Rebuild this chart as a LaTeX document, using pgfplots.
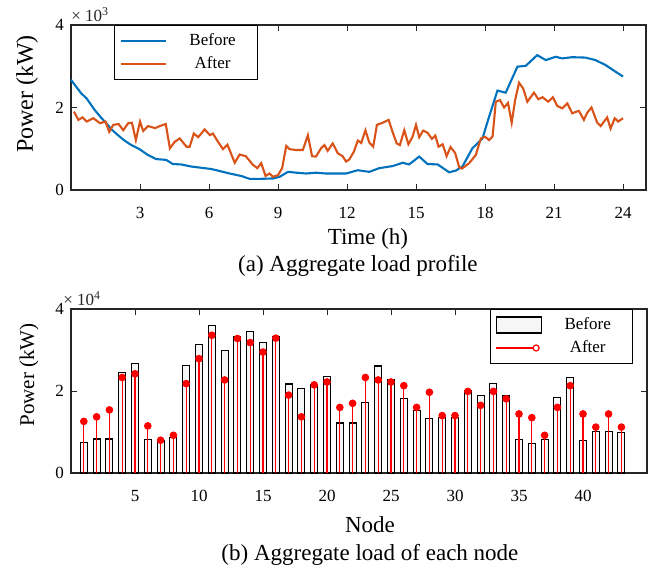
\documentclass[border=0pt]{standalone}
\usepackage{fontspec}
\setmainfont{Liberation Serif}
\usepackage{pgfplots}
\pgfplotsset{compat=1.18}

\definecolor{mblue}{rgb}{0,0.447,0.741}
\definecolor{morange}{rgb}{0.85,0.325,0.098}
\definecolor{axgray}{rgb}{0.15,0.15,0.15}

\pgfplotsset{
  mystyle/.style={
    scale only axis,
    anchor=north west,
    clip=false,
    axis line style={axgray, line width=0.6pt},
    tick style={axgray, line width=0.5pt},
    tick align=inside,
    major tick length=3pt,
    ticklabel style={font=\fontsize{8.5}{10}\selectfont, text=black},
    /pgf/number format/assume math mode=true,
    xticklabel style={yshift=-5pt},
    legend cell align=center,
    legend style={draw=black, line width=0.5pt, fill=white,
      font=\fontsize{8.5}{10}\selectfont, inner xsep=2.5pt, inner ysep=2pt,
      nodes={inner sep=2pt, text depth=0.15em},
      /tikz/every odd column/.append style={column sep=3pt}},
    every axis y label/.style={rotate=90, anchor=center},
    every axis x label/.style={anchor=center, font=\fontsize{11.5}{14}\selectfont},
  }
}

\begin{document}
\begin{tikzpicture}
\useasboundingbox (-35.5pt,12.5pt) rectangle (292.5pt,-272pt);

% ---------------- (a) ----------------
\begin{axis}[mystyle,
  at={(0pt,0pt)},
  width=287.5pt, height=82.5pt,
  xmin=0, xmax=25, ymin=0, ymax=4,
  xtick={3,6,...,24}, ytick={0,2,4},
  xlabel={Time (h)},
  xlabel style={at={(axis description cs:0.5165,-0.297)}},
  ylabel={Power (kW)},
  ylabel style={at={(axis description cs:-0.0765,0.582)}, font=\fontsize{12}{14}\selectfont},
  legend style={at={(axis description cs:0.0748,1)}, anchor=north west},
  legend image code/.code={\draw[#1] (0pt,0pt) -- (22.5pt,0pt);},
]
\addplot[mblue, line width=1.05pt] coordinates {
(0,2.67) (0.45,2.34) (0.68,2.22) (1.03,1.94) (1.3,1.76) (1.53,1.62) (1.78,1.46) (2.04,1.33) (2.3,1.21) (2.62,1.09) (2.98,0.99)
(3.34,0.85) (3.7,0.75) (4.14,0.73) (4.43,0.63) (4.79,0.62) (5.22,0.57) (5.65,0.54) (6.09,0.51)
(6.32,0.48) (6.9,0.40) (7.4,0.34) (7.77,0.27) (8.2,0.27) (8.78,0.28) (9.07,0.32) (9.43,0.44)
(9.8,0.42) (10.22,0.40) (10.65,0.42) (11.08,0.40) (11.52,0.40) (11.96,0.40) (12.47,0.48)
(12.97,0.44) (13.4,0.53) (13.98,0.58) (14.42,0.66) (14.7,0.62) (15.14,0.81) (15.5,0.63)
(15.94,0.62) (16.44,0.43) (16.73,0.47) (17.02,0.57) (17.45,1.01) (17.89,1.25) (18.18,1.78)
(18.54,2.41) (18.9,2.36) (19.41,2.99) (19.77,3.01) (20.27,3.27) (20.64,3.15) (21.07,3.23)
(21.36,3.19) (21.79,3.22) (22.37,3.21) (22.8,3.15) (23.24,3.03) (23.67,2.87) (24.0,2.75)
};
\addlegendentry{\makebox[36pt]{Before}}
\addplot[morange, line width=1.05pt] coordinates {
(0.13,1.90) (0.32,1.70) (0.5,1.76) (0.68,1.66) (0.97,1.74) (1.26,1.62) (1.5,1.66) (1.66,1.41)
(1.84,1.58) (2.07,1.60) (2.27,1.45) (2.49,1.62) (2.65,1.63) (2.82,1.21) (3.0,1.66) (3.14,1.43)
(3.35,1.55) (3.66,1.50) (3.86,1.55) (4.12,1.60) (4.3,1.01) (4.51,1.17) (4.73,1.25) (5.02,1.05)
(5.16,1.05) (5.34,1.37) (5.53,1.28) (5.81,1.47) (6.04,1.33) (6.17,1.37) (6.39,1.17) (6.61,0.99)
(6.8,1.10) (7.12,0.66) (7.33,0.86) (7.6,0.82) (7.91,0.61) (8.1,0.53) (8.27,0.65) (8.46,0.34)
(8.63,0.40) (8.78,0.32) (9.0,0.36) (9.18,0.53) (9.36,1.07) (9.5,0.99) (9.79,0.97) (10.08,0.97)
(10.3,1.33) (10.48,0.82) (10.65,0.81) (10.87,1.01) (11.02,1.09) (11.16,0.95) (11.38,1.13)
(11.6,0.89) (11.81,0.82) (11.96,0.69) (12.1,0.74) (12.3,0.93) (12.47,1.20) (12.62,1.14)
(12.8,1.45) (12.97,1.15) (13.14,1.05) (13.3,1.58) (13.55,1.63) (13.81,1.70) (13.98,1.41)
(14.16,1.13) (14.3,1.09) (14.49,1.45) (14.67,1.11) (14.85,1.29) (15.0,1.58) (15.14,1.28)
(15.31,1.44) (15.5,1.39) (15.69,1.24) (15.84,1.32) (15.98,1.05) (16.16,1.11) (16.33,0.82)
(16.5,1.04) (16.7,0.90) (16.88,0.55) (17.0,0.52) (17.31,0.65) (17.6,0.85) (17.82,1.25)
(18.0,1.29) (18.18,1.21) (18.33,1.30) (18.47,2.14) (18.65,2.18) (18.83,2.00) (19.0,2.11)
(19.16,1.63) (19.31,2.18) (19.48,2.60) (19.66,2.46) (19.84,2.14) (20.13,2.36) (20.32,2.20)
(20.5,2.25) (20.75,2.14) (20.95,2.25) (21.14,2.04) (21.36,1.98) (21.58,2.10) (21.79,1.86)
(22.08,1.92) (22.3,1.70) (22.44,1.87) (22.63,2.00) (22.88,1.63) (23.03,1.55) (23.31,1.76)
(23.46,1.49) (23.64,1.74) (23.79,1.66) (24.0,1.74)
};
\addlegendentry{\makebox[36pt]{After}}
\node[anchor=base west, inner sep=0pt, text=axgray, font=\fontsize{8.5}{10}\selectfont]
  at (rel axis cs:0,1) [yshift=2pt] {× 10\textsuperscript{3}};
\node[anchor=center, font=\fontsize{11.5}{14}\selectfont]
  at (axis description cs:0.499,-0.4606) {(a) Aggregate load profile};
\end{axis}

% ---------------- (b) ----------------
\begin{axis}[mystyle,
  at={(0pt,-142pt)},
  width=288pt, height=82pt,
  xmin=0, xmax=45, ymin=0, ymax=4,
  xtick={5,10,...,40}, ytick={0,2,4},
  xlabel={Node},
  xlabel style={at={(axis description cs:0.519,-0.317)}},
  ylabel={Power (kW)},
  ylabel style={at={(axis description cs:-0.073,0.598)}, font=\fontsize{10.5}{12}\selectfont},
  legend style={at={(axis description cs:0.976,1)}, anchor=north east},
]
\addplot[ybar, bar width=0.55, fill=gray!7, draw=black, line width=0.55pt,
  legend image code/.code={\draw[fill=gray!7, draw=black, line width=0.55pt] (0pt,-4pt) rectangle (22.5pt,4pt);}]
coordinates {
(1,0.74) (2,0.83) (3,0.83) (4,2.46) (5,2.67) (6,0.82) (7,0.80) (8,0.86) (9,2.63) (10,3.13)
(11,3.59) (12,2.98) (13,3.33) (14,3.46) (15,3.18) (16,3.32) (17,2.17) (18,2.07) (19,2.16) (20,2.36)
(21,1.22) (22,1.22) (23,1.73) (24,2.61) (25,2.28) (26,1.81) (27,1.52) (28,1.33) (29,1.35) (30,1.35)
(31,2.02) (32,1.89) (33,2.19) (34,1.90) (35,0.81) (36,0.72) (37,0.82) (38,1.85) (39,2.33) (40,0.80)
(41,1.02) (42,1.02) (43,0.98)
};
\addlegendentry{\makebox[36pt]{Before}}
\addplot[ycomb, draw=red, line width=0.6pt, mark=*, mark size=1.6pt, mark options={fill=red, draw=red},
  legend image code/.code={\draw[red, line width=0.6pt] (0pt,0pt) -- (20pt,0pt);
    \draw[red, fill=white, line width=0.6pt] (20pt,0pt) circle (1.5pt);}]
coordinates {
(1,1.26) (2,1.37) (3,1.54) (4,2.33) (5,2.42) (6,1.15) (7,0.80) (8,0.92) (9,2.18) (10,2.79)
(11,3.36) (12,2.27) (13,3.28) (14,3.18) (15,2.95) (16,3.29) (17,1.90) (18,1.37) (19,2.15) (20,2.22)
(21,1.60) (22,1.70) (23,2.33) (24,2.27) (25,2.22) (26,2.13) (27,1.60) (28,1.97) (29,1.40) (30,1.40)
(31,1.99) (32,1.65) (33,1.99) (34,1.81) (35,1.44) (36,1.35) (37,0.92) (38,1.60) (39,2.13) (40,1.44)
(41,1.12) (42,1.44) (43,1.12)
};
\addlegendentry{\makebox[36pt]{After}}
\node[anchor=base west, inner sep=0pt, text=axgray, font=\fontsize{8.5}{10}\selectfont]
  at (rel axis cs:0,1) [xshift=-4pt, yshift=2pt] {× 10\textsuperscript{4}};
\node[anchor=center, font=\fontsize{11.5}{14}\selectfont]
  at (axis description cs:0.519,-0.5) {(b) Aggregate load of each node};
\end{axis}
\end{tikzpicture}
\end{document}
